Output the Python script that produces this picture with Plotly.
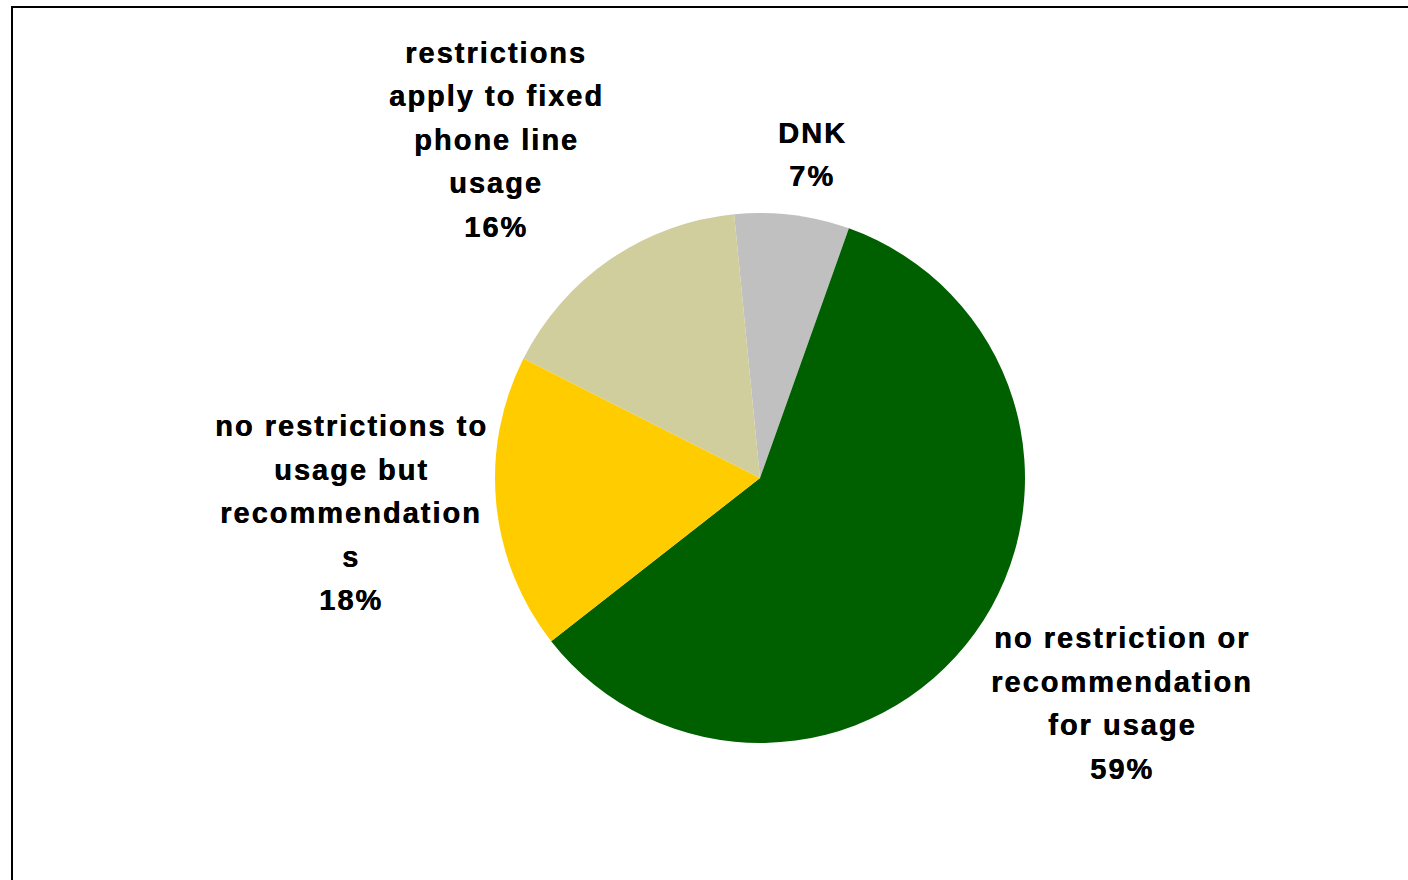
import plotly.graph_objects as go

# Survey answers, clockwise from the top of the pie
categories = [
    "DNK",
    "no restriction or\nrecommendation\nfor usage",
    "no restrictions to\nusage but\nrecommendation\ns",
    "restrictions\napply to fixed\nphone line\nusage",
]
shares = [7, 59, 18, 16]
slice_colors = ["#C0C0C0", "#006000", "#FFCC00", "#D0CE9C"]

# Label block centres (px) for each category
label_centers = [(811, 132.5), (1121, 638), (350, 426), (495, 53)]
LINE_STEP = 43.5

W, H = 1408, 880
CX, CY, R = 760, 478, 265


def px(x):
    return x / W


def py(y):
    return 1 - y / H


fig = go.Figure(
    go.Pie(
        labels=[c.replace("\n", " ") for c in categories],
        values=shares,
        sort=False,
        direction="clockwise",
        rotation=-5.6,
        marker=dict(colors=slice_colors, line=dict(width=0)),
        textinfo="none",
        hoverinfo="label+percent",
        showlegend=False,
        domain=dict(x=[px(CX - R), px(CX + R)], y=[py(CY + R), py(CY - R)]),
    )
)

annotations = []
for cat, val, (lx, ly) in zip(categories, shares, label_centers):
    lines = cat.split("\n") + [f"{val}%"]
    for i, line in enumerate(lines):
        annotations.append(
            dict(
                text=f'<span style="letter-spacing:2px">{line}</span>',
                x=px(lx + 1.0),
                y=py(ly + i * LINE_STEP),
                xref="paper",
                yref="paper",
                xanchor="center",
                yanchor="middle",
                showarrow=False,
                font=dict(family="Liberation Sans, Arial, sans-serif", size=29,
                          color="black", weight="bold",
                          shadow="0.5px 0px 0px black"),
            )
        )

fig.update_layout(
    width=W,
    height=H,
    margin=dict(l=0, r=0, t=0, b=0),
    paper_bgcolor="white",
    plot_bgcolor="white",
    annotations=annotations,
    shapes=[
        dict(
            type="rect",
            xref="paper",
            yref="paper",
            x0=px(12),
            x1=px(W + 20),
            y0=py(H + 20),
            y1=py(7),
            line=dict(color="black", width=2),
            fillcolor="rgba(0,0,0,0)",
            layer="above",
        )
    ],
)

fig.write_html("out.html")
